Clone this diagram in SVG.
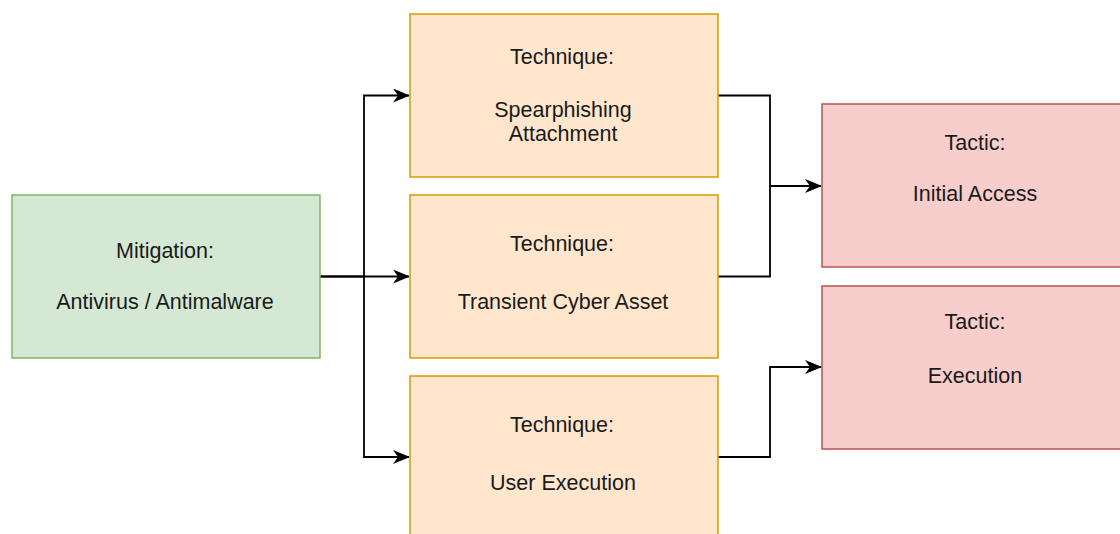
<svg xmlns="http://www.w3.org/2000/svg" width="1120" height="534" viewBox="0 0 1120 534">
  <style>
    .box { stroke-width: 1.5; }
    .mit { fill: #d5e8d4; stroke: #82b366; }
    .tech { fill: #ffe6cc; stroke: #d79b00; }
    .tac { fill: #f8cecc; stroke: #b85450; }
    .lbl { font-family: "Liberation Sans", Arial, Helvetica, sans-serif; font-size: 21.5px; fill: #1a1a1a; text-anchor: middle; }
    .edge { fill: none; stroke: #000; stroke-width: 1.8; }
  </style>
  <defs>
    <marker id="arrow" viewBox="0 0 17 14" refX="16" refY="7" markerWidth="17" markerHeight="14" markerUnits="userSpaceOnUse" orient="auto">
      <path d="M0,0 L17,7 L0,14 L5,7 Z" fill="#000"/>
    </marker>
  </defs>

  <rect width="1120" height="534" fill="#fff"/>

  <!-- connectors -->
  <g id="connectors">
    <path class="edge" d="M320,276.5 H364 V95.5 H409" marker-end="url(#arrow)"/>
    <path class="edge" d="M320,276.5 H409" marker-end="url(#arrow)"/>
    <path class="edge" d="M364,276.5 V457 H409" marker-end="url(#arrow)"/>
    <path class="edge" d="M718,95.5 H770 V186 H821" marker-end="url(#arrow)"/>
    <path class="edge" d="M718,276.5 H770 V186"/>
    <path class="edge" d="M718,457 H770 V367 H821" marker-end="url(#arrow)"/>
  </g>

  <!-- mitigation -->
  <g id="mitigation">
    <rect class="box mit" x="12" y="195" width="308" height="163"/>
    <text class="lbl" x="165" y="258">Mitigation:</text>
    <text class="lbl" x="165" y="309">Antivirus / Antimalware</text>
  </g>

  <!-- techniques -->
  <g id="technique-spearphishing">
    <rect class="box tech" x="410" y="14" width="308" height="163"/>
    <text class="lbl" x="562" y="64">Technique:</text>
    <text class="lbl" x="563" y="117">Spearphishing</text>
    <text class="lbl" x="563" y="141">Attachment</text>
  </g>
  <g id="technique-transient">
    <rect class="box tech" x="410" y="195" width="308" height="163"/>
    <text class="lbl" x="562" y="251">Technique:</text>
    <text class="lbl" x="563" y="309">Transient Cyber Asset</text>
  </g>
  <g id="technique-user-execution">
    <rect class="box tech" x="410" y="376" width="308" height="163"/>
    <text class="lbl" x="562" y="432">Technique:</text>
    <text class="lbl" x="563" y="490">User Execution</text>
  </g>

  <!-- tactics -->
  <g id="tactic-initial-access">
    <rect class="box tac" x="822" y="104" width="308" height="163"/>
    <text class="lbl" x="975" y="150">Tactic:</text>
    <text class="lbl" x="975" y="201">Initial Access</text>
  </g>
  <g id="tactic-execution">
    <rect class="box tac" x="822" y="286" width="308" height="163"/>
    <text class="lbl" x="975" y="329">Tactic:</text>
    <text class="lbl" x="975" y="383">Execution</text>
  </g>
</svg>
